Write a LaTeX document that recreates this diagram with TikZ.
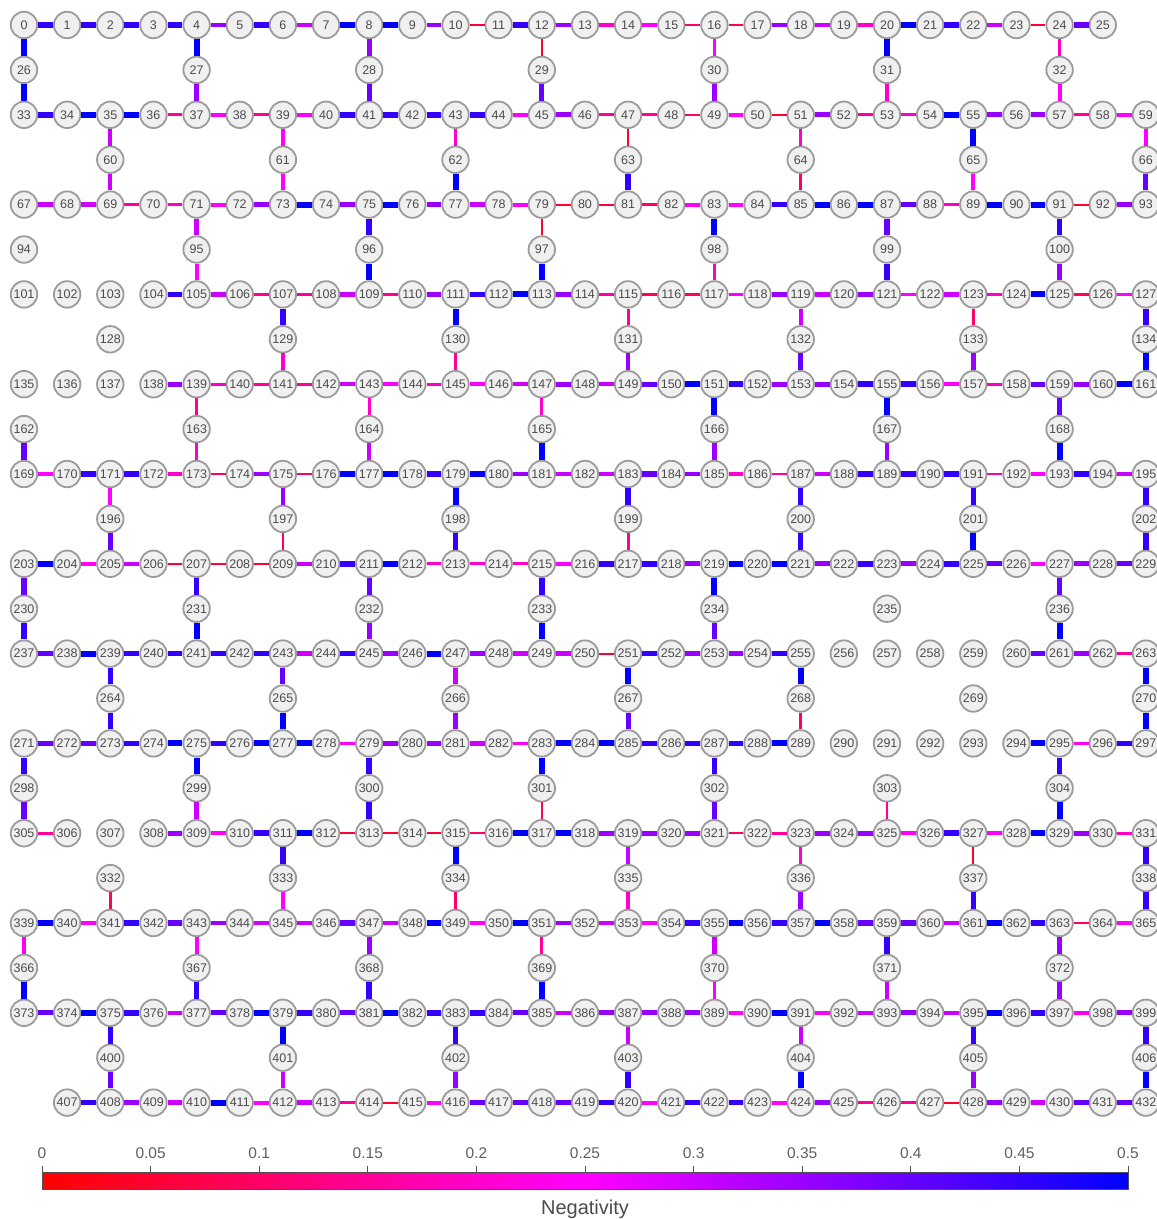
\documentclass[tikz,border=0pt]{standalone}
\usepackage{fontspec}
\setmainfont{Liberation Sans}
\definecolor{cR}{RGB}{255,0,0}
\definecolor{cM}{RGB}{255,0,255}
\definecolor{cB}{RGB}{0,0,255}
\definecolor{nodeRing}{RGB}{155,155,155}
\definecolor{nodeFill}{RGB}{240,240,240}
\definecolor{nodeText}{RGB}{75,75,75}
\definecolor{barText}{RGB}{95,95,95}
\definecolor{barEdge}{RGB}{80,80,80}
% node at column / row
\newcommand\qbAt[3]{\node[qb] (n#1) at ({24+43.15*#2},{25+44.9*#3}) {#1};}
% edge between two named nodes with a level 0..10 (negativity = level*0.05)
\newcommand\edgeL[3]{%
  \ifnum#3<0 \else
    \ifnum#3>5 \pgfmathtruncatemacro\myPc{(#3-5)*20}\colorlet{ec}{cB!\myPc!cM}%
    \else \pgfmathtruncatemacro\myPc{#3*20}\colorlet{ec}{cM!\myPc!cR}\fi
    \pgfmathsetmacro\myLw{1.6+0.44*#3}%
    \draw[draw=ec, line width=\myLw pt] (n#1) -- (n#2);
  \fi}
% horizontal edges of a row: start id, list of levels
\newcommand\hrow[2]{%
  \foreach \lv [count=\k from 0] in {#2} {%
    \pgfmathtruncatemacro\myA{#1+\k}\pgfmathtruncatemacro\myB{#1+\k+1}%
    \edgeL{\myA}{\myB}{\lv}}}
% vertical edges of a bridge row: first bridge id, first col, row-above offset, row-below offset, up/down levels
\newcommand\vrow[5]{%
  \foreach \vu/\vd [count=\k from 0] in {#5} {%
    \pgfmathtruncatemacro\myC{#2+4*\k}%
    \pgfmathtruncatemacro\myB{#1+\k}%
    \pgfmathtruncatemacro\myU{#3+\myC}%
    \pgfmathtruncatemacro\myD{#4+\myC}%
    \edgeL{\myU}{\myB}{\vu}\edgeL{\myB}{\myD}{\vd}}}
\begin{document}
\begin{tikzpicture}[x=1pt,y=-1pt,
  qb/.style={circle, draw=nodeRing, fill=nodeFill, line width=1.8pt, minimum size=26.5pt,
    inner sep=0pt, text=nodeText, font=\fontsize{12.5}{14}\selectfont},
  ticklab/.style={text=barText, font=\fontsize{15.5}{17}\selectfont, inner sep=0pt},
  barlab/.style={text=barText!80!black, font=\fontsize{20}{22}\selectfont, inner sep=0pt}]
\useasboundingbox (0,0) rectangle (1157,1219);
% ---------- nodes ----------
\foreach \c in {0,...,25} {\qbAt{\c}{\c}{0}}
\foreach \kk in {1,...,11} {
  \foreach \c in {0,...,26} {
    \pgfmathtruncatemacro\myId{33+34*(\kk-1)+\c}
    \pgfmathtruncatemacro\myR{2*\kk}
    \qbAt{\myId}{\c}{\myR}}}
\foreach \c in {1,...,26} {\pgfmathtruncatemacro\myId{406+\c}\qbAt{\myId}{\c}{24}}
\foreach \j in {0,...,11} {
  \foreach \i in {0,...,6} {
    \pgfmathtruncatemacro\myId{26+34*\j+\i}
    \pgfmathtruncatemacro\myC{mod(\j,2)*2+4*\i}
    \pgfmathtruncatemacro\myR{2*\j+1}
    \qbAt{\myId}{\myC}{\myR}}}
% ---------- horizontal edges ----------
\hrow{0}{9,9,9,9,7,9,6,10,10,7,1,9,7,4,5,2,2,7,6,4,10,9,6,1,8}
\hrow{33}{9,10,10,3,5,3,5,9,9,9,9,5,7,3,3,2,5,1,7,3,4,10,7,7,3,5}
\hrow{67}{6,6,3,4,5,7,10,7,10,7,6,5,1,1,2,5,5,9,10,10,8,4,10,10,1,7}
\hrow{101}{-1,-1,-1,9,6,3,3,6,3,7,9,10,7,3,2,2,5,7,6,7,5,6,4,10,2,5}
\hrow{135}{-1,-1,-1,7,4,3,3,6,5,4,5,6,7,6,8,10,9,7,7,9,9,5,4,8,7,10}
\hrow{169}{5,9,9,4,2,7,2,10,10,9,10,7,6,6,8,7,4,3,6,9,9,9,3,5,9,6}
\hrow{203}{10,5,6,1,1,1,6,9,10,4,4,4,5,9,9,7,10,10,7,9,7,9,8,5,7,8}
\hrow{237}{8,10,9,9,9,9,6,9,7,10,7,6,6,1,9,7,7,9,-1,-1,-1,-1,-1,8,7,3}
\hrow{271}{8,8,9,10,9,10,10,5,7,7,6,5,10,10,9,9,9,10,-1,-1,-1,-1,-1,10,5,9}
\hrow{305}{3,-1,-1,7,5,9,10,1,1,1,2,10,10,7,7,7,2,3,7,7,5,9,5,10,7,4}
\hrow{339}{10,5,9,8,7,6,6,8,6,10,5,10,7,6,5,9,10,9,10,8,8,6,10,9,2,5}
\hrow{373}{8,10,9,6,8,10,9,8,10,9,9,8,6,7,7,7,5,10,5,6,7,6,10,9,5,7}
\hrow{407}{9,7,6,10,5,6,3,1,5,8,8,8,9,5,9,9,5,7,3,3,1,7,6,8,8}
% ---------- vertical edges ----------
\vrow{26}{0}{0}{33}{10/10,10/7,7/8,1/8,5/7,10/4,4/5}
\vrow{60}{2}{33}{67}{6/6,5/5,4/10,1/9,4/2,10/5,5/8}
\vrow{94}{0}{67}{101}{-1/-1,6/5,9/10,1/10,10/4,8/9,9/7}
\vrow{128}{2}{101}{135}{-1/-1,9/4,10/3,3/7,6/8,2/7,9/10}
\vrow{162}{0}{135}{169}{-1/8,3/4,4/6,4/10,10/7,10/7,8/10}
\vrow{196}{2}{169}{203}{5/8,7/2,10/9,9/3,9/9,9/10,9/9}
\vrow{230}{0}{203}{237}{8/9,9/10,8/7,9/10,10/8,-1/-1,8/10}
\vrow{264}{2}{237}{271}{9/9,8/10,6/7,10/8,10/2,-1/-1,10/10}
\vrow{298}{0}{271}{305}{9/8,10/6,9/9,10/2,9/8,-1/3,9/10}
\vrow{332}{2}{305}{339}{-1/2,9/5,10/2,6/4,4/7,1/9,9/9}
\vrow{366}{0}{339}{373}{5/10,5/9,7/9,3/10,6/5,9/6,7/7}
\vrow{400}{2}{373}{406}{9/8,10/6,9/7,6/9,6/10,9/7,9/10}
% ---------- colour bar ----------
\shade[left color=cR, right color=cB, middle color=cM] (42,1172) rectangle (1128,1189);
\draw[barEdge, line width=0.9pt] (42,1172) rectangle (1128,1189);
\foreach \t [count=\i from 0] in {0,0.05,0.1,0.15,0.2,0.25,0.3,0.35,0.4,0.45,0.5} {
  \pgfmathsetmacro\myX{42+108.6*\i}
  \draw[barEdge, line width=0.8pt] (\myX,1172) -- (\myX,1166);
  \node[ticklab, anchor=base] (tick\i) at (\myX,1158) {\t};}
\node[barlab, anchor=base] (barTitle) at (585,1214) {Negativity};
\end{tikzpicture}
\end{document}
